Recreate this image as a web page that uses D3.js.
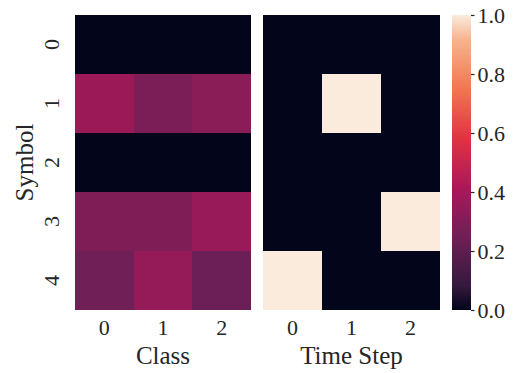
<!DOCTYPE html>
<html>
<head>
<meta charset="utf-8">
<script src="https://cdn.jsdelivr.net/npm/d3@7"></script>
<style>
  body { margin: 0; background: #fff; }
  svg text { font-family: "Liberation Serif", "Times New Roman", serif !important; fill: #262626; }
</style>
</head>
<body>
<div id="chart"></div>
<script>
// Data
var symbols = [0, 1, 2, 3, 4];
var classes = [0, 1, 2];
var timeSteps = [0, 1, 2];

// rows = symbol, cols = class
var classValues = [
  [0, 0, 0],
  [0.37, 0.28, 0.32],
  [0, 0, 0],
  [0.29, 0.29, 0.36],
  [0.25, 0.35, 0.24]
];

// rows = symbol, cols = time step
var timeValues = [
  [0, 0, 0],
  [0, 1, 0],
  [0, 0, 0],
  [0, 0, 1],
  [1, 0, 0]
];

var colorTicks = [0, 0.2, 0.4, 0.6, 0.8, 1.0];

// rocket colormap anchors
var rocketStops = [0, 0.083, 0.25, 0.417, 0.583, 0.75, 0.917, 1];
var rocketColors = ["#03051a", "#35193e", "#701f57", "#ad1759", "#e13342", "#f37651", "#f6b48f", "#faebdd"];

var width = 521, height = 373;
var plotTop = 15, plotBottom = 310;

var svg = d3.select("#chart").append("svg")
  .attr("width", width)
  .attr("height", height);

var color = d3.scaleLinear()
  .domain(rocketStops)
  .range(rocketColors)
  .interpolate(d3.interpolateRgb)
  .clamp(true);

var y = d3.scaleBand()
  .domain(symbols)
  .range([plotTop, plotBottom]);

function heatmap(values, cols, x0, x1, label) {
  var x = d3.scaleBand()
    .domain(cols)
    .range([x0, x1]);

  var g = svg.append("g");
  values.forEach(function (row, i) {
    row.forEach(function (v, j) {
      g.append("rect")
        .attr("x", x(cols[j]))
        .attr("y", y(symbols[i]))
        .attr("width", x.bandwidth())
        .attr("height", y.bandwidth())
        .attr("shape-rendering", "crispEdges")
        .style("fill", color(v));
    });
  });

  // x tick labels
  svg.append("g")
    .attr("transform", "translate(0," + plotBottom + ")")
    .call(d3.axisBottom(x).tickSize(0).tickPadding(9))
    .attr("font-family", "Liberation Serif")
    .attr("font-size", 22)
    .call(function (a) {
      a.select(".domain").remove();
      a.selectAll("text").attr("fill", "#262626");
    });

  svg.append("text")
    .attr("x", (x0 + x1) / 2)
    .attr("y", 364)
    .attr("text-anchor", "middle")
    .style("font-size", "25px")
    .text(label);

  return x;
}

heatmap(classValues, classes, 75, 251, "Class");
heatmap(timeValues, timeSteps, 263, 440, "Time Step");

// y tick labels (rotated)
symbols.forEach(function (s) {
  var cy = y(s) + y.bandwidth() / 2;
  svg.append("text")
    .attr("transform", "translate(59," + cy + ") rotate(-90)")
    .attr("text-anchor", "middle")
    .style("font-size", "22px")
    .text(s);
});

svg.append("text")
  .attr("transform", "translate(33," + ((plotTop + plotBottom) / 2) + ") rotate(-90)")
  .attr("text-anchor", "middle")
  .style("font-size", "25px")
  .text("Symbol");

// Colorbar
var cbX = 452, cbW = 19;
var cbScale = d3.scaleLinear().domain([0, 1]).range([plotBottom, plotTop]);
var cbRows = d3.range(plotTop, plotBottom);
svg.append("g").selectAll("rect")
  .data(cbRows)
  .join("rect")
  .attr("x", cbX)
  .attr("y", function (d) { return d; })
  .attr("width", cbW)
  .attr("height", 1)
  .attr("shape-rendering", "crispEdges")
  .style("fill", function (d) { return color(cbScale.invert(d + 0.5)); });

svg.append("g")
  .attr("transform", "translate(" + (cbX + cbW) + ",0)")
  .call(d3.axisRight(cbScale).tickValues(colorTicks).tickFormat(d3.format(".1f")).tickSize(3.5).tickPadding(3))
  .attr("font-family", "Liberation Serif")
  .attr("font-size", 22)
  .call(function (a) {
    a.select(".domain").remove();
    a.selectAll("line").attr("stroke", "#262626").attr("stroke-width", 1.2);
    a.selectAll("text").attr("fill", "#262626");
  });
</script>
</body>
</html>
